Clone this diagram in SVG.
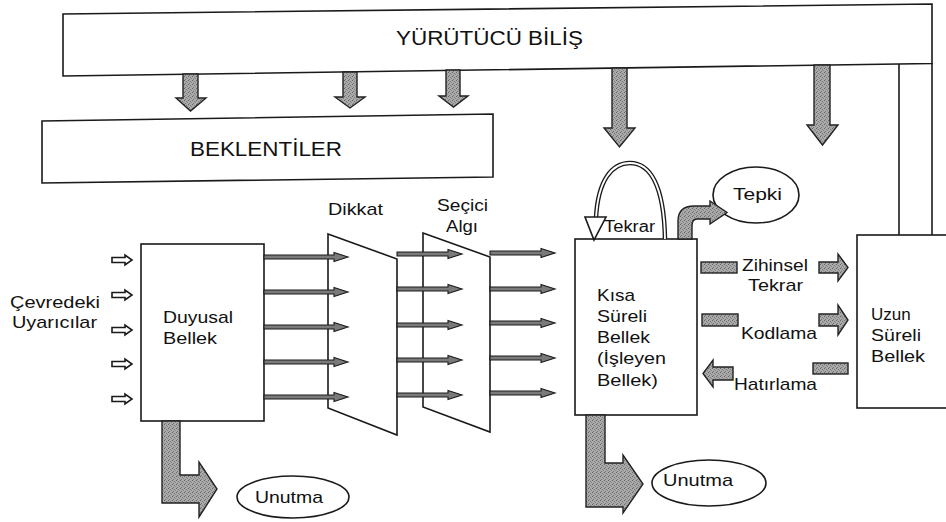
<svg xmlns="http://www.w3.org/2000/svg" width="946" height="522" viewBox="0 0 946 522">
<style>
.box{fill:#fff;stroke:#1a1a1a;stroke-width:1.6}
.ln{fill:none;stroke:#1a1a1a;stroke-width:1.6}
.t{font-family:"Liberation Sans",Arial,sans-serif;font-size:17px;fill:#111}
.big{font-size:20px}
.g{fill:url(#tex);stroke:#222;stroke-width:1.4}
.ha{fill:#7a7a7a;stroke:#1a1a1a;stroke-width:1.1}
.ia{fill:#fff;stroke:#1a1a1a;stroke-width:1.6}
</style>
<defs>
<pattern id="tex" width="4" height="4" patternUnits="userSpaceOnUse">
<rect width="4" height="4" fill="#a9a9a9"/>
<rect width="1" height="1" fill="#666"/>
<rect x="2" y="1" width="1" height="1" fill="#7a7a7a"/>
<rect x="1" y="3" width="1" height="1" fill="#777"/>
<rect x="3" y="2" width="1" height="1" fill="#888"/>
</pattern>
<path id="ha84" d="M0,-2 H70 V-4.5 L84,0 L70,4.5 V2 H0 Z"/>
<path id="ha65" d="M0,-2 H51 V-4.5 L65,0 L51,4.5 V2 H0 Z"/>
<path id="inArr" d="M0,-2.5 H13 V-5 L20,0 L13,5 V2.5 H0 Z"/>
</defs>

<g id="yurutucu">
<polygon class="box" points="63,14 932,4 932,63.5 63,76"/>
<line class="ln" x1="932" y1="63" x2="932" y2="235"/>
<line class="ln" x1="899" y1="64" x2="899" y2="235"/>
<text class="t big" x="396" y="45" textLength="187" lengthAdjust="spacingAndGlyphs">YÜRÜTÜCÜ BİLİŞ</text>
</g>

<g id="beklentiler">
<polygon class="box" points="42,121 493,114 493,177 42,183"/>
<text class="t" style="font-size:21px" x="190" y="156" textLength="152" lengthAdjust="spacingAndGlyphs">BEKLENTİLER</text>
</g>

<g id="cevre">
<text class="t" x="10" y="308" textLength="90" lengthAdjust="spacingAndGlyphs">Çevredeki</text>
<text class="t" x="12" y="328" textLength="85" lengthAdjust="spacingAndGlyphs">Uyarıcılar</text>
</g>

<g id="duyusal">
<rect class="box" x="141" y="244" width="123" height="177"/>
<text class="t" x="163" y="323" textLength="70" lengthAdjust="spacingAndGlyphs">Duyusal</text>
<text class="t" x="163" y="344" textLength="54" lengthAdjust="spacingAndGlyphs">Bellek</text>
</g>

<g id="dikkat">
<polygon class="box" points="328,234 397,259 397,435 328,408"/>
<text class="t" x="328" y="215" textLength="55" lengthAdjust="spacingAndGlyphs">Dikkat</text>
</g>

<g id="secici">
<polygon class="box" points="423,233 490,257 490,432 423,407"/>
<text class="t" x="437" y="211" textLength="51" lengthAdjust="spacingAndGlyphs">Seçici</text>
<text class="t" x="446" y="232" textLength="32" lengthAdjust="spacingAndGlyphs">Algı</text>
</g>

<g id="kisa">
<rect class="box" x="575" y="239" width="122" height="176"/>
<text class="t" x="597" y="301" textLength="38" lengthAdjust="spacingAndGlyphs">Kısa</text>
<text class="t" x="597" y="322" textLength="50" lengthAdjust="spacingAndGlyphs">Süreli</text>
<text class="t" x="597" y="343" textLength="53" lengthAdjust="spacingAndGlyphs">Bellek</text>
<text class="t" x="597" y="364" textLength="69" lengthAdjust="spacingAndGlyphs">(İşleyen</text>
<text class="t" x="597" y="386" textLength="61" lengthAdjust="spacingAndGlyphs">Bellek)</text>
</g>

<g id="uzun">
<rect class="box" x="857" y="235" width="100" height="173"/>
<text class="t" x="871" y="320">Uzun</text>
<text class="t" x="871" y="341" textLength="50" lengthAdjust="spacingAndGlyphs">Süreli</text>
<text class="t" x="871" y="362" textLength="54" lengthAdjust="spacingAndGlyphs">Bellek</text>
</g>

<g id="tepki">
<ellipse class="box" cx="756" cy="195" rx="43" ry="28"/>
<text class="t" x="733" y="200" textLength="49" lengthAdjust="spacingAndGlyphs">Tepki</text>
</g>

<g id="unutma1">
<ellipse class="box" cx="293" cy="497" rx="56" ry="21"/>
<text class="t" x="255" y="503" textLength="68" lengthAdjust="spacingAndGlyphs">Unutma</text>
</g>

<g id="unutma2">
<ellipse class="box" cx="709" cy="483" rx="57" ry="23"/>
<text class="t" x="663" y="486" textLength="70" lengthAdjust="spacingAndGlyphs">Unutma</text>
</g>

<g id="connectors">
<path class="g" d="M183,74 H198 V98 H206 L190.5,111 L176,98 H183 Z"/>
<path class="g" d="M343,72 H357 V97 H365 L350,108 L335,97 H343 Z"/>
<path class="g" d="M446,70 H460 V96 H468 L453.5,107 L439,96 H446 Z"/>
<path class="g" d="M612,68 H627 V128 H635 L619.5,147 L604,128 H612 Z"/>
<path class="g" d="M814,65 H830 V125 H838 L822.5,145 L807,125 H814 Z"/>

<use href="#inArr" class="ia" x="112" y="260"/>
<use href="#inArr" class="ia" x="112" y="295"/>
<use href="#inArr" class="ia" x="112" y="330"/>
<use href="#inArr" class="ia" x="112" y="364"/>
<use href="#inArr" class="ia" x="112" y="399"/>

<use href="#ha84" class="ha" x="264" y="257"/>
<use href="#ha84" class="ha" x="264" y="292"/>
<use href="#ha84" class="ha" x="264" y="327"/>
<use href="#ha84" class="ha" x="264" y="362"/>
<use href="#ha84" class="ha" x="264" y="397"/>

<use href="#ha65" class="ha" x="397" y="254"/>
<use href="#ha65" class="ha" x="397" y="289"/>
<use href="#ha65" class="ha" x="397" y="325"/>
<use href="#ha65" class="ha" x="397" y="360"/>
<use href="#ha65" class="ha" x="397" y="395"/>

<use href="#ha65" class="ha" x="490" y="253"/>
<use href="#ha65" class="ha" x="490" y="289"/>
<use href="#ha65" class="ha" x="490" y="323"/>
<use href="#ha65" class="ha" x="490" y="358"/>
<use href="#ha65" class="ha" x="490" y="393"/>

<path class="g" d="M162,421 H180 V475 H199 V462 L217,489 L199,517 V503 H162 Z"/>
<path class="g" d="M586,415 H605 V463 H623 V455 L643,484 L623,513 V507 H586 Z"/>

<path class="g" d="M678,239 V221 Q678,206 694,206 H710 V201 L727,212.5 L710,224 V219 H697 Q692,219 692,226 V239 Z"/>

<path d="M596,218 C598,180 612,163 630,163 C650,163 664,185 665,239" fill="none" stroke="#1a1a1a" stroke-width="4.5"/>
<path d="M596,218 C598,180 612,163 630,163 C650,163 664,185 665,239" fill="none" stroke="#fff" stroke-width="1.8"/>
<polygon class="ia" points="585,217 606,217 594,240"/>
<text class="t" style="font-size:16px" x="604" y="232" textLength="51" lengthAdjust="spacingAndGlyphs">Tekrar</text>

<rect class="g" x="701" y="262" width="36" height="11"/>
<path class="g" d="M819,262 H838 V254 L848,267.5 L838,281 V273 H819 Z"/>
<text class="t" x="742" y="271" textLength="66" lengthAdjust="spacingAndGlyphs">Zihinsel</text>
<text class="t" x="748" y="291" textLength="55" lengthAdjust="spacingAndGlyphs">Tekrar</text>

<rect class="g" x="702" y="314" width="36" height="12"/>
<path class="g" d="M819,314 H838 V305 L848,320 L838,335 V326 H819 Z"/>
<text class="t" x="741" y="339" textLength="76" lengthAdjust="spacingAndGlyphs">Kodlama</text>

<path class="g" d="M733,367 H713 V360 L703,373.5 L713,387 V380 H733 Z"/>
<rect class="g" x="813" y="363" width="35" height="11"/>
<text class="t" x="734" y="390" textLength="83" lengthAdjust="spacingAndGlyphs">Hatırlama</text>
</g>
</svg>
